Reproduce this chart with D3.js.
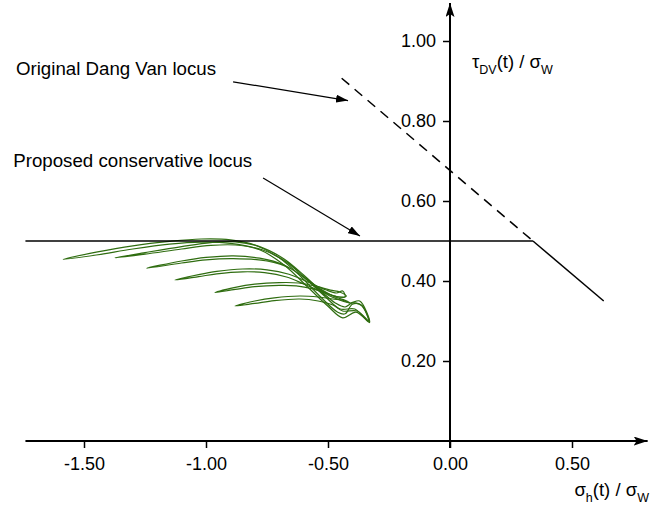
<!DOCTYPE html>
<html><head><meta charset="utf-8">
<script src="https://cdn.jsdelivr.net/npm/d3@7"></script>
<style>
body{margin:0;background:#fff;}
text{font-family:"Liberation Sans",Arial,sans-serif;fill:#000;}
</style></head>
<body>
<svg id="chart" width="665" height="511"></svg>
<script>
// ---- data ----
const xTicks = [-1.5, -1.0, -0.5, 0.0, 0.5];
const yTicks = [0.2, 0.4, 0.6, 0.8, 1.0];
const dangVanDashed = [[-0.444, 0.907], [0.34, 0.5]];
const dangVanSolid = [[0.34, 0.5], [0.63, 0.35]];
const conservative = [[-1.74, 0.5], [0.34, 0.5]];
const loop1 = [[-1.585,0.454],[-1.45,0.472],[-1.30,0.488],[-1.15,0.499],[-1.02,0.505],[-0.90,0.503],[-0.80,0.49],[-0.70,0.458],[-0.61,0.41],[-0.53,0.36],[-0.46,0.322],[-0.43,0.318],[-0.40,0.342],[-0.365,0.340],[-0.33,0.296],[-0.385,0.322],[-0.44,0.308],[-0.50,0.337],[-0.58,0.383],[-0.68,0.44],[-0.78,0.478],[-0.90,0.494],[-1.02,0.497],[-1.15,0.492],[-1.30,0.480],[-1.45,0.465]];
const loop2 = [[-1.373,0.458],[-1.25,0.471],[-1.10,0.486],[-0.98,0.496],[-0.88,0.498],[-0.78,0.486],[-0.68,0.455],[-0.60,0.415],[-0.52,0.37],[-0.47,0.345],[-0.43,0.335],[-0.40,0.345],[-0.36,0.338],[-0.335,0.30],[-0.39,0.33],[-0.45,0.33],[-0.51,0.36],[-0.59,0.405],[-0.67,0.447],[-0.77,0.478],[-0.88,0.49],[-0.98,0.489],[-1.10,0.480],[-1.25,0.467]];
const loop3 = [[-1.243,0.432],[-1.10,0.45],[-1.00,0.459],[-0.888,0.463],[-0.78,0.457],[-0.68,0.44],[-0.60,0.41],[-0.53,0.38],[-0.47,0.36],[-0.43,0.352],[-0.41,0.345],[-0.45,0.352],[-0.50,0.365],[-0.57,0.395],[-0.65,0.43],[-0.75,0.45],[-0.888,0.456],[-1.00,0.453],[-1.10,0.445]];
const loop4 = [[-1.127,0.4025],[-1.03,0.416],[-0.956,0.424],[-0.85,0.43],[-0.75,0.428],[-0.66,0.417],[-0.58,0.397],[-0.51,0.378],[-0.465,0.37],[-0.44,0.375],[-0.43,0.36],[-0.47,0.362],[-0.52,0.372],[-0.59,0.39],[-0.67,0.41],[-0.76,0.421],[-0.85,0.423],[-0.956,0.418],[-1.03,0.411]];
const loop5 = [[-0.963,0.371],[-0.88,0.384],[-0.80,0.392],[-0.70,0.396],[-0.62,0.395],[-0.55,0.387],[-0.49,0.377],[-0.45,0.372],[-0.425,0.362],[-0.455,0.36],[-0.50,0.368],[-0.56,0.38],[-0.63,0.388],[-0.70,0.389],[-0.80,0.386],[-0.88,0.379]];
const loop6 = [[-0.881,0.3375],[-0.80,0.35],[-0.72,0.358],[-0.615,0.3625],[-0.54,0.36],[-0.48,0.355],[-0.44,0.352],[-0.41,0.345],[-0.37,0.35],[-0.33,0.298],[-0.38,0.325],[-0.44,0.325],[-0.48,0.34],[-0.54,0.35],[-0.615,0.355],[-0.72,0.351],[-0.80,0.344]];
const loops = [loop1, loop2, loop3, loop4, loop5, loop6];
const annotations = [
  {text: "Original Dang Van locus", at: [-1.779, 0.915], from: [-0.889, 0.898], to: [-0.418, 0.851]},
  {text: "Proposed conservative locus", at: [-1.79, 0.685], from: [-0.766, 0.6575], to: [-0.369, 0.5125]}
];

// ---- scales ----
const svg = d3.select("#chart");
const x = d3.scaleLinear().domain([-1.74, 0.81]).range([450 - 1.74*244, 450 + 0.81*244]);
const y = d3.scaleLinear().domain([0, 1.095]).range([441, 441 - 1.095*400]);
const fmt = d => d3.format(".2f")(d).replace("\u2212", "-");

const defs = svg.append("defs");
defs.append("marker").attr("id","ah").attr("viewBox","0 0 12 8").attr("refX",12).attr("refY",4)
  .attr("markerWidth",12).attr("markerHeight",8).attr("markerUnits","userSpaceOnUse").attr("orient","auto")
  .append("path").attr("d","M0,0L12,4L0,8Z").attr("fill","#000");
defs.append("marker").attr("id","axah").attr("viewBox","0 0 14 9").attr("refX",14).attr("refY",4.5)
  .attr("markerWidth",14).attr("markerHeight",9).attr("markerUnits","userSpaceOnUse").attr("orient","auto")
  .append("path").attr("d","M0,0L14,4.5L0,9L3,4.5Z").attr("fill","#000");

const line = d3.line().x(d => x(d[0])).y(d => y(d[1]));

// ---- green loading paths ----
const loopLine = d3.line().x(d => x(d[0])).y(d => y(d[1])).curve(d3.curveCatmullRomClosed.alpha(0.5));
svg.append("g").selectAll("path").data(loops).join("path")
  .attr("d", loopLine).attr("fill","none").attr("stroke","#2f6d10").attr("stroke-width",1.2);

// ---- loci ----
svg.append("path").attr("d", line(conservative)).attr("stroke","#000").attr("stroke-width",1.5).attr("fill","none");
svg.append("path").attr("d", line(dangVanDashed)).attr("stroke","#000").attr("stroke-width",1.5)
  .attr("stroke-dasharray","10,7").attr("fill","none");
svg.append("path").attr("d", line(dangVanSolid)).attr("stroke","#000").attr("stroke-width",1.5).attr("fill","none");

// ---- axes ----
const xAxis = d3.axisBottom(x).tickValues(xTicks).tickSize(7).tickPadding(9).tickFormat(fmt);
const gx = svg.append("g").attr("transform", `translate(0,${y(0)})`).call(xAxis);
gx.select(".domain").remove();
gx.selectAll("text").attr("font-size",18).attr("font-family","Liberation Sans, Arial, sans-serif");
gx.selectAll("line").attr("stroke-width",1.5);

const yAxis = d3.axisLeft(y).tickValues(yTicks).tickSize(7).tickPadding(7).tickFormat(fmt);
const gy = svg.append("g").attr("transform", `translate(${x(0)},0)`).call(yAxis);
gy.select(".domain").remove();
gy.selectAll("text").attr("font-size",18).attr("font-family","Liberation Sans, Arial, sans-serif");
gy.selectAll("line").attr("stroke-width",1.5);

svg.append("line").attr("x1", x(-1.74)).attr("x2", x(0.81)).attr("y1", y(0)).attr("y2", y(0))
  .attr("stroke","#000").attr("stroke-width",2).attr("marker-end","url(#axah)");
svg.append("line").attr("x1", x(0)).attr("x2", x(0)).attr("y1", y(0) + 7).attr("y2", y(1.095))
  .attr("stroke","#000").attr("stroke-width",2).attr("marker-end","url(#axah)");

// ---- axis titles ----
const ty = svg.append("text").attr("x", x(0) + 22).attr("y", y(0.932)).attr("font-size",18.5);
ty.append("tspan").text("τ");
ty.append("tspan").attr("font-size",12.5).attr("dy",6).text("DV");
ty.append("tspan").attr("dy",-6).text("(t) / σ");
ty.append("tspan").attr("font-size",12.5).attr("dy",6).text("W");

const tx = svg.append("text").attr("x", x(0.51)).attr("y", y(-0.138)).attr("font-size",18.5);
tx.append("tspan").text("σ");
tx.append("tspan").attr("font-size",12.5).attr("dy",6).text("h");
tx.append("tspan").attr("dy",-6).text("(t) / σ");
tx.append("tspan").attr("font-size",12.5).attr("dy",6).text("W");

// ---- annotations ----
const ann = svg.append("g");
ann.selectAll("text").data(annotations).join("text")
  .attr("x", d => x(d.at[0])).attr("y", d => y(d.at[1])).attr("font-size",18.7).text(d => d.text);
ann.selectAll("line").data(annotations).join("line")
  .attr("x1", d => x(d.from[0])).attr("y1", d => y(d.from[1]))
  .attr("x2", d => x(d.to[0])).attr("y2", d => y(d.to[1]))
  .attr("stroke","#000").attr("stroke-width",1.2).attr("marker-end","url(#ah)");
</script>
</body></html>
